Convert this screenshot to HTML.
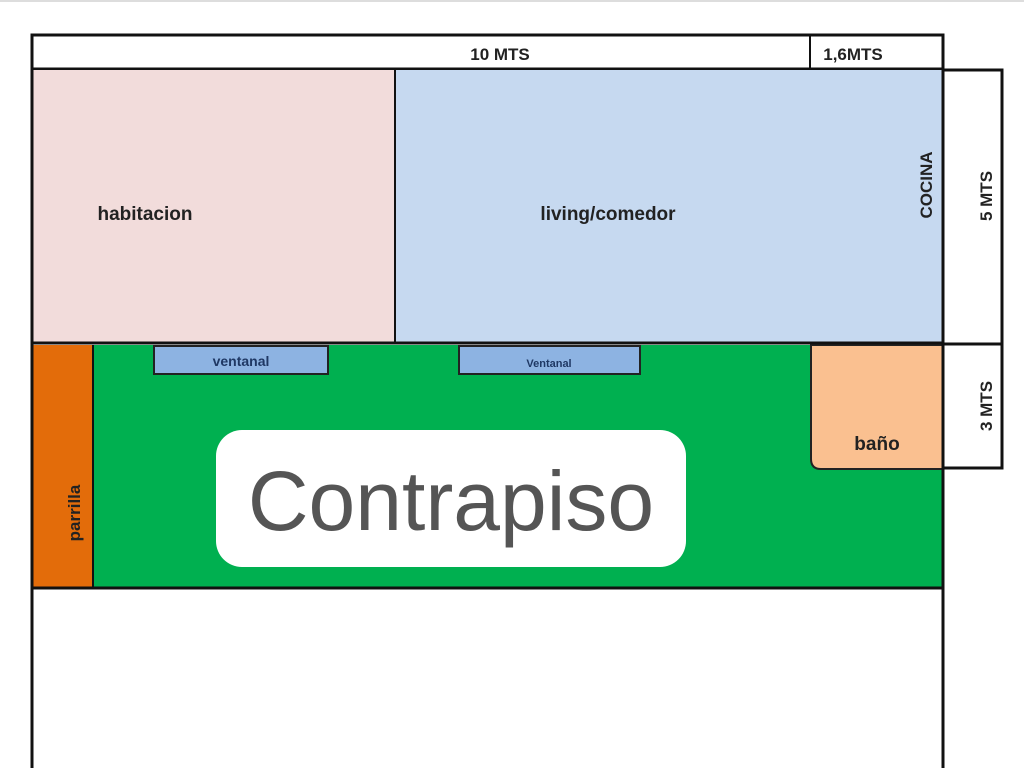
<!DOCTYPE html>
<html><head><meta charset="utf-8"><style>
body{margin:0;width:1024px;height:768px;background:#fff;overflow:hidden;font-family:"Liberation Sans",sans-serif}
</style></head><body>
<svg width="1024" height="768" xmlns="http://www.w3.org/2000/svg" style="position:absolute;left:0;top:0">
<rect x="0" y="0" width="1024" height="2" fill="#ddd"/>
<rect x="32" y="35" width="911" height="34" fill="#fff" stroke="#111" stroke-width="3"/>
<line x1="810" y1="35" x2="810" y2="69" stroke="#111" stroke-width="2"/>
<text x="500" y="60" font-size="17" font-weight="bold" text-anchor="middle" fill="#222">10 MTS</text>
<text x="853" y="60" font-size="17" font-weight="bold" text-anchor="middle" fill="#222">1,6MTS</text>
<rect x="33" y="70" width="362" height="273" fill="#f2dcdb"/>
<rect x="396" y="70" width="547" height="273" fill="#c6d9f0"/>
<line x1="395" y1="70" x2="395" y2="343" stroke="#111" stroke-width="2"/>
<text x="145" y="220" font-size="19" font-weight="bold" text-anchor="middle" fill="#222">habitacion</text>
<text x="608" y="220" font-size="19" font-weight="bold" text-anchor="middle" fill="#222">living/comedor</text>
<text transform="translate(932,185) rotate(-90)" font-size="17" font-weight="bold" text-anchor="middle" fill="#222">COCINA</text>
<rect x="943" y="70" width="59" height="274" fill="#fff" stroke="#111" stroke-width="3"/>
<rect x="943" y="344" width="59" height="124" fill="#fff" stroke="#111" stroke-width="3"/>
<text transform="translate(992,196) rotate(-90)" font-size="17" font-weight="bold" text-anchor="middle" fill="#222">5 MTS</text>
<text transform="translate(992,406) rotate(-90)" font-size="17" font-weight="bold" text-anchor="middle" fill="#222">3 MTS</text>
<rect x="33" y="345" width="60" height="243" fill="#e36c0a"/>
<rect x="93" y="345" width="850" height="243" fill="#00b050"/>
<line x1="93" y1="345" x2="93" y2="588" stroke="#111" stroke-width="2"/>
<text transform="translate(80,513) rotate(-90)" font-size="17" font-weight="bold" text-anchor="middle" fill="#222">parrilla</text>
<rect x="154" y="346" width="174" height="28" fill="#8db3e2" stroke="#222" stroke-width="2"/>
<text x="241" y="366" font-size="14" font-weight="bold" text-anchor="middle" fill="#1f3864">ventanal</text>
<rect x="459" y="346" width="181" height="28" fill="#8db3e2" stroke="#222" stroke-width="2"/>
<text x="549" y="367" font-size="11" font-weight="bold" text-anchor="middle" fill="#1f3864">Ventanal</text>
<path d="M811 345 V459 Q811 469 821 469 H943 V345 Z" fill="#fac090" stroke="#222" stroke-width="2"/>
<text x="877" y="450" font-size="19" font-weight="bold" text-anchor="middle" fill="#222">baño</text>
<rect x="216" y="430" width="470" height="137" rx="26" fill="#fff"/>
<text x="451" y="530" font-size="84" text-anchor="middle" fill="#555">Contrapiso</text>
<line x1="32" y1="343" x2="943" y2="343" stroke="#111" stroke-width="3"/>
<line x1="32" y1="588" x2="943" y2="588" stroke="#111" stroke-width="3"/>
<line x1="32" y1="35" x2="32" y2="768" stroke="#111" stroke-width="3"/>
<line x1="943" y1="35" x2="943" y2="768" stroke="#111" stroke-width="3"/>
</svg>
</body></html>
